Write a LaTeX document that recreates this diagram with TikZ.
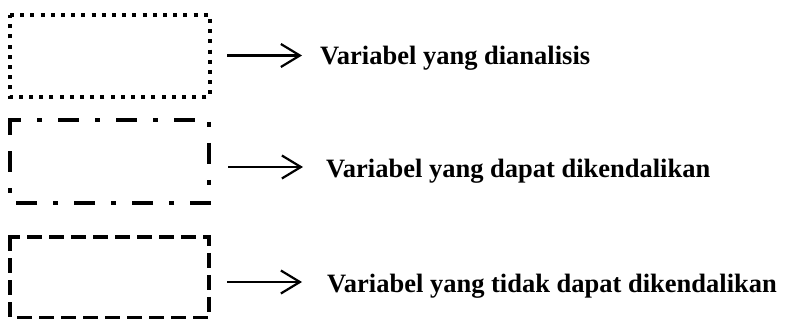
\documentclass[tikz,border=0pt]{standalone}
\usepackage{fontspec}
\setmainfont{Liberation Serif}
\usetikzlibrary{arrows.meta}
\begin{document}
\begin{tikzpicture}[x=1pt,y=-1pt,
  legendbox/.style={line width=3.8pt,line cap=butt,line join=miter},
  dotbox/.style={legendbox,dash pattern=on 4pt off 6.2pt},
  dashdotbox/.style={legendbox,dash pattern=on 21pt off 16pt on 5pt off 16pt},
  dashbox/.style={legendbox,dash pattern=on 15pt off 7pt},
  legendarrow/.style={line width=2.2pt,-{Straight Barb[length=19pt,width=23pt,line width=2.2pt]}},
  legendtext/.style={anchor=base west,inner sep=0pt,font=\bfseries\fontsize{26.5}{30}\selectfont}]
\useasboundingbox (0,0) rectangle (785,320);

% box outlines
\draw[dotbox] (10,15) -- (210,15) -- (210,97) -- (10,97) -- cycle;
\draw[dashdotbox] (10,130) -- (10,120) -- (209,120) -- (209,203) -- (10,203) -- cycle;
\draw[dashbox] (10,242) -- (10,237) -- (209,237) -- (209,317.5) -- (10,317.5) -- cycle;

% arrow end points
\coordinate (a1s) at (227,55.5);
\coordinate (a1e) at (302,55.5);
\coordinate (a2s) at (228,167);
\coordinate (a2e) at (303,167);
\coordinate (a3s) at (227,282);
\coordinate (a3e) at (302,282);

% labels
\node[legendtext] (t1) at (320,65) {Variabel yang dianalisis};
\node[legendtext] (t2) at (326,178) {Variabel yang dapat dikendalikan};
\node[legendtext] (t3) at (327,293) {Variabel yang tidak dapat dikendalikan};

\draw[legendarrow] (a1s) -- (a1e);
\draw[legendarrow] (a2s) -- (a2e);
\draw[legendarrow] (a3s) -- (a3e);
\end{tikzpicture}
\end{document}
